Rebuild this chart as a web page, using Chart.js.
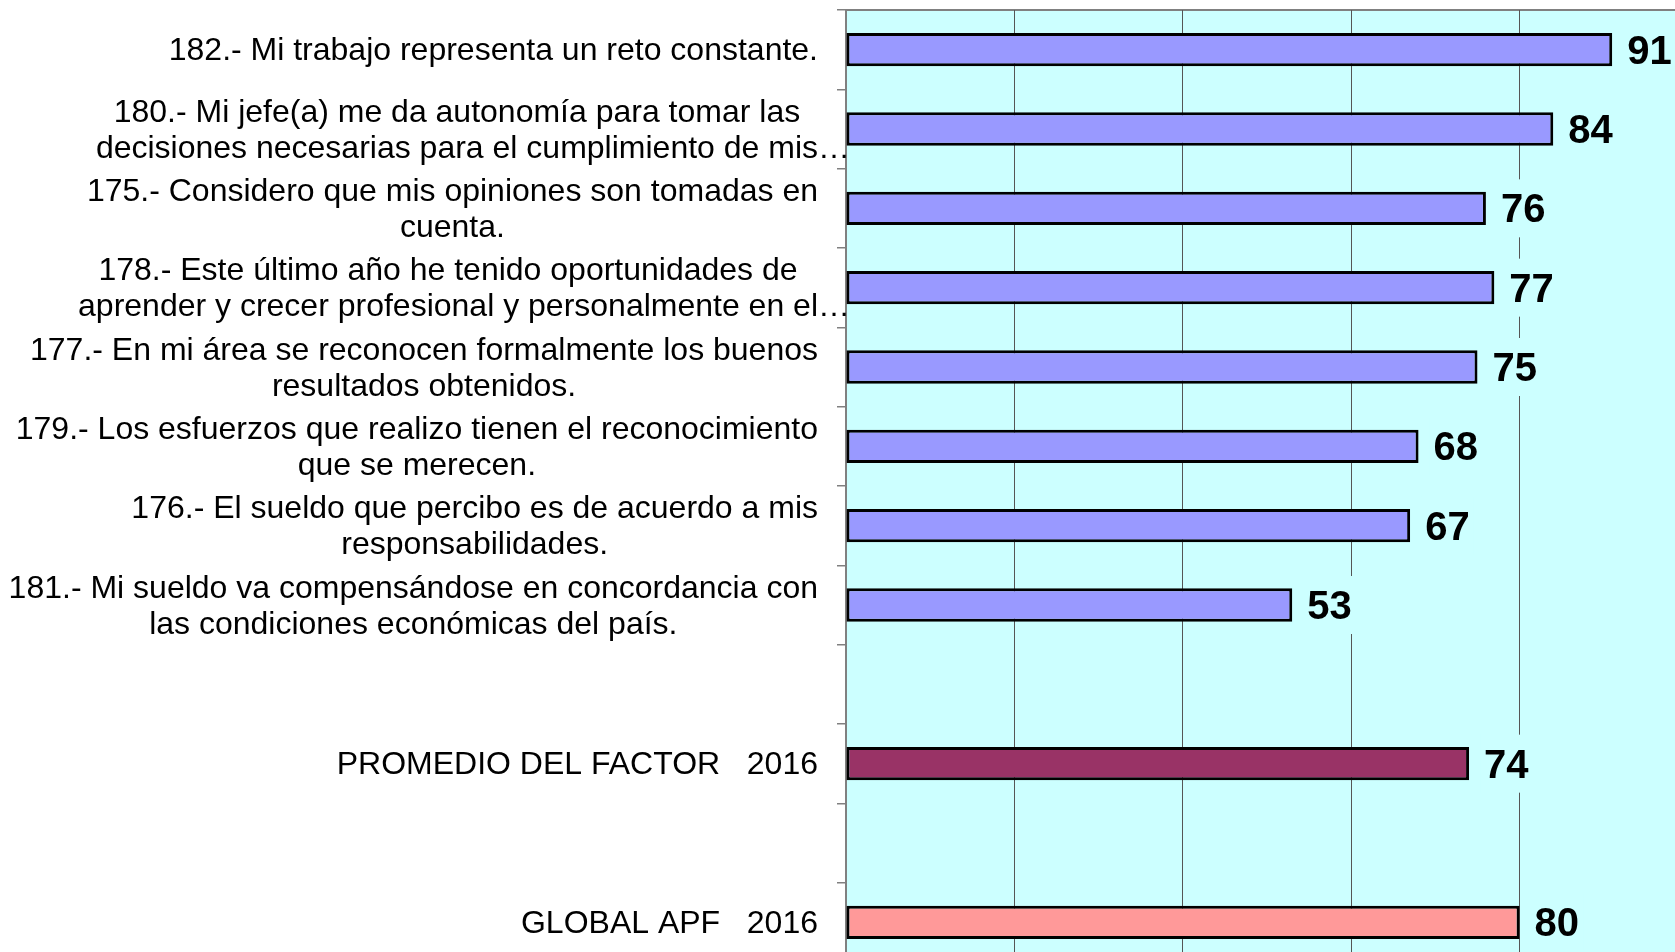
<!DOCTYPE html>
<html lang="es">
<head>
<meta charset="utf-8">
<title>Factor 2016</title>
<script src="https://cdn.jsdelivr.net/npm/chart.js@4"></script>
<style>
  html, body { margin: 0; padding: 0; background: #fff; overflow: hidden; }
</style>
</head>
<body>
<canvas id="grafico" width="1690" height="962"></canvas>
<script>
// Preguntas del factor (las vacías son los huecos entre grupos)
const categorias = [
    '182.- Mi trabajo representa un reto constante.',
    ['180.- Mi jefe(a) me da autonomía para tomar las', 'decisiones necesarias para el cumplimiento de mis…'],
    ['175.- Considero que mis opiniones son tomadas en', 'cuenta.'],
    ['178.- Este último año he tenido oportunidades de', 'aprender y crecer profesional y personalmente en el…'],
    ['177.- En mi área se reconocen formalmente los buenos', 'resultados obtenidos.'],
    ['179.- Los esfuerzos que realizo tienen el reconocimiento', 'que se merecen.'],
    ['176.- El sueldo que percibo es de acuerdo a mis', 'responsabilidades.'],
    ['181.- Mi sueldo va compensándose en concordancia con', 'las condiciones económicas del país.'],
    '',
    'PROMEDIO DEL FACTOR   2016',
    '',
    'GLOBAL APF   2016'
];

// Resultados de cada pregunta
const valores = [91, 84, 76, 77, 75, 68, 67, 53, null, 74, null, 80];

// Colores de cada barra
const cores = ['#9999FF', '#9999FF', '#9999FF', '#9999FF', '#9999FF', '#9999FF', '#9999FF', '#9999FF',
    null, '#993366', null, '#FF9999'];

// Marcas del eje de valores
const marcasX = [0, 20, 40, 60, 80, 100];

const FUNDO = '#CCFFFF';
const ALTURA_LINHA = 36;

// Pinta el fondo del área de trazado y la línea superior
const fundoPlugin = {
    id: 'fundo',
    beforeDraw(chart) {
        const { ctx, chartArea } = chart;
        ctx.save();
        ctx.fillStyle = FUNDO;
        ctx.fillRect(chartArea.left, chartArea.top, chartArea.right - chartArea.left, chartArea.bottom - chartArea.top);
        ctx.strokeStyle = '#808080';
        ctx.lineWidth = 2;
        ctx.beginPath();
        ctx.moveTo(chartArea.left, chartArea.top);
        ctx.lineTo(chartArea.right, chartArea.top);
        ctx.stroke();
        ctx.restore();
    }
};

// Textos de las preguntas: cada bloque centrado y pegado a la derecha
const rotulosPlugin = {
    id: 'rotulos',
    afterDraw(chart) {
        const ctx = chart.ctx;
        const escalaY = chart.scales.y;
        const borda = escalaY.right - 28;
        ctx.save();
        ctx.font = '32px "Liberation Sans", Arial, sans-serif';
        ctx.fillStyle = '#000';
        ctx.textBaseline = 'middle';
        ctx.textAlign = 'left';
        const largura = l => ctx.measureText(l.replace(/…$/, '')).width;
        categorias.forEach((rotulo, i) => {
            const linhas = Array.isArray(rotulo) ? rotulo : [rotulo];
            const y = escalaY.getPixelForValue(i) + 2;
            const maior = Math.max(...linhas.map(largura));
            const centro = borda - maior / 2;
            linhas.forEach((l, j) => {
                const yl = y + (j - (linhas.length - 1) / 2) * ALTURA_LINHA;
                ctx.fillText(l, centro - largura(l) / 2, yl);
            });
        });
        ctx.restore();
    }
};

// Etiquetas con el valor al final de cada barra
const valoresPlugin = {
    id: 'valores',
    afterDatasetsDraw(chart) {
        const ctx = chart.ctx;
        const meta = chart.getDatasetMeta(0);
        ctx.save();
        ctx.font = 'bold 40px "Liberation Sans", Arial, sans-serif';
        ctx.textBaseline = 'middle';
        ctx.textAlign = 'left';
        meta.data.forEach((barra, i) => {
            if (valores[i] === null) return;
            const texto = String(valores[i]);
            const w = ctx.measureText(texto).width;
            const x = barra.x + 15;
            ctx.fillStyle = FUNDO;
            ctx.fillRect(x - 4, barra.y - 29, w + 8, 58);
            ctx.fillStyle = '#000';
            ctx.fillText(texto, x, barra.y + 3);
        });
        ctx.restore();
    }
};

new Chart(document.getElementById('grafico'), {
    type: 'bar',
    data: {
        labels: categorias,
        datasets: [{
            data: valores,
            backgroundColor: cores,
            borderColor: '#000',
            borderWidth: 3,
            borderSkipped: false,
            barPercentage: 0.42,
            categoryPercentage: 1
        }]
    },
    options: {
        indexAxis: 'y',
        responsive: false,
        animation: false,
        devicePixelRatio: 1,
        layout: { padding: { top: 10, right: 2, left: 0, bottom: 0 } },
        plugins: {
            legend: { display: false },
            tooltip: { enabled: false }
        },
        scales: {
            x: {
                min: marcasX[0],
                max: marcasX[marcasX.length - 1],
                afterBuildTicks(scale) {
                    scale.ticks = marcasX.map(v => ({ value: v }));
                },
                ticks: { display: false },
                grid: { color: '#555', lineWidth: 1, drawTicks: false },
                border: { display: false },
                afterFit(scale) { scale.height = 0; }
            },
            y: {
                ticks: { display: false },
                grid: { drawOnChartArea: false, drawTicks: true, tickLength: 9, color: '#808080', lineWidth: 1.5 },
                border: { display: true, color: '#808080', width: 2 },
                afterFit(scale) { scale.width = 846; }
            }
        }
    },
    plugins: [fundoPlugin, rotulosPlugin, valoresPlugin]
});
</script>
</body>
</html>
